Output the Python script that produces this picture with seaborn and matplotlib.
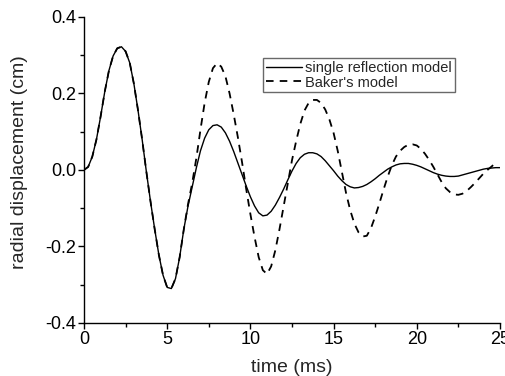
import numpy as np
import pandas as pd
import matplotlib
matplotlib.use("Agg")
import matplotlib.pyplot as plt
import seaborn as sns

# time axis (ms), every 0.25 ms
t_single = [i * 0.25 for i in range(101)]
single_reflection = [
    0.000, 0.008, 0.035, 0.080, 0.140, 0.205, 0.260, 0.298, 0.318, 0.322,
    0.310, 0.280, 0.225, 0.155, 0.078, -0.005, -0.083, -0.155, -0.222, -0.275,
    -0.307, -0.310, -0.284, -0.228, -0.155, -0.095, -0.045, 0.005, 0.050, 0.083,
    0.105, 0.116, 0.118, 0.112, 0.097, 0.075, 0.048, 0.018, -0.012, -0.042,
    -0.070, -0.094, -0.112, -0.120, -0.118, -0.108, -0.092, -0.072, -0.050, -0.026,
    -0.003, 0.017, 0.032, 0.041, 0.045, 0.045, 0.042, 0.035, 0.024, 0.011,
    -0.002, -0.016, -0.028, -0.038, -0.044, -0.047, -0.046, -0.043, -0.038, -0.031,
    -0.023, -0.014, -0.006, 0.002, 0.008, 0.013, 0.016, 0.017, 0.017, 0.015,
    0.012, 0.008, 0.003, -0.002, -0.007, -0.011, -0.014, -0.016, -0.017, -0.017,
    -0.016, -0.013, -0.010, -0.007, -0.004, -0.001, 0.002, 0.004, 0.005, 0.006,
    0.006,
]

t_baker = [i * 0.25 for i in range(99)] + [24.6]
baker = [
    0.000, 0.008, 0.035, 0.080, 0.140, 0.205, 0.260, 0.298, 0.318, 0.322,
    0.310, 0.280, 0.225, 0.155, 0.078, -0.005, -0.083, -0.155, -0.222, -0.275,
    -0.307, -0.310, -0.284, -0.228, -0.155, -0.090, -0.035, 0.030, 0.105, 0.175,
    0.230, 0.266, 0.279, 0.270, 0.245, 0.200, 0.145, 0.085, 0.020, -0.050,
    -0.115, -0.175, -0.228, -0.262, -0.272, -0.252, -0.210, -0.155, -0.095, -0.035,
    0.025, 0.075, 0.120, 0.155, 0.175, 0.183, 0.183, 0.175, 0.158, 0.132,
    0.097, 0.050, -0.005, -0.060, -0.105, -0.140, -0.163, -0.174, -0.172, -0.152,
    -0.122, -0.088, -0.052, -0.018, 0.012, 0.035, 0.050, 0.060, 0.066, 0.067,
    0.064, 0.055, 0.042, 0.026, 0.008, -0.012, -0.032, -0.048, -0.058, -0.064,
    -0.065, -0.062, -0.055, -0.045, -0.034, -0.022, -0.010, 0.000, 0.009, 0.013,
]

sns.set_style("ticks")
plt.rcParams['font.family'] = ['Liberation Sans', 'DejaVu Sans']

fig = plt.figure(figsize=(5.06, 3.76), dpi=100)
ax = fig.add_axes([0.166, 0.141, 0.822, 0.814])

sns.lineplot(x=t_single, y=single_reflection, ax=ax, color='black', linewidth=1.0,
             estimator=None, sort=False, label='single reflection model')
sns.lineplot(x=t_baker, y=baker, ax=ax, color='black', linewidth=1.3,
             estimator=None, sort=False, label="Baker's model")
ax.lines[1].set_dashes([4.2, 3.4])

ax.set_xlim(0, 25)
ax.set_ylim(-0.4, 0.4)
ax.set_xticks([0, 5, 10, 15, 20, 25])
ax.set_xticks(np.arange(2.5, 25, 5), minor=True)
ax.set_yticks([-0.4, -0.2, 0.0, 0.2, 0.4])
ax.set_yticks([-0.3, -0.1, 0.1, 0.3], minor=True)
ax.set_yticklabels(['-0.4', '-0.2', '0.0', '0.2', '0.4'])
ax.tick_params(which='major', direction='out', length=4.5, width=1.0,
               labelsize=13, color='black', labelcolor='black', pad=1)
ax.tick_params(which='minor', direction='out', length=2.8, width=1.0, color='black')

sns.despine(ax=ax)
for s in ['left', 'bottom']:
    ax.spines[s].set_color('black')
    ax.spines[s].set_linewidth(1.0)

ax.set_xlabel('time (ms)', fontsize=14)
ax.set_ylabel('radial displacement (cm)', fontsize=14)
ax.xaxis.set_label_coords(0.5, -0.117)
ax.yaxis.set_label_coords(-0.135, 0.525)

leg = ax.legend(loc='upper left', bbox_to_anchor=(0.43, 0.866), fontsize=10.5,
                frameon=True, fancybox=False, handlelength=2.5, borderpad=0.2,
                labelspacing=0.05, handletextpad=0.2, borderaxespad=0)
leg.get_frame().set_edgecolor('#444444')
leg.get_frame().set_linewidth(1.0)

fig.savefig('out.png', dpi=100)
